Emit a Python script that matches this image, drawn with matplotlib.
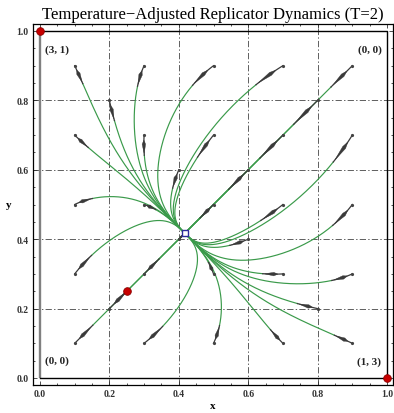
import numpy as np
import matplotlib
matplotlib.use("Agg")
import matplotlib.pyplot as plt
from matplotlib.patches import Polygon

# Game: rows/cols are strategy 1 (prob x / y) and strategy 2
row_payoff = np.array([[0.0, 1.0],
                       [3.0, 0.0]])
col_payoff = np.array([[0.0, 3.0],
                       [1.0, 0.0]])
temperature = 2.0

# Initial conditions of the trajectories
grid_vals = [0.1, 0.3, 0.5, 0.7, 0.9]
diag_vals = [0.2, 0.4, 0.6, 0.8]
anti_diag = [(0.2, 0.8), (0.4, 0.6), (0.6, 0.4), (0.8, 0.2)]

# Equilibria
nash_points = [(0.0, 1.0), (1.0, 0.0), (0.25, 0.25)]
rest_point = (0.417, 0.417)

ticks = [0.0, 0.2, 0.4, 0.6, 0.8, 1.0]
tick_labels = ["0.0", "0.2", "0.4", "0.6", "0.8", "1.0"]

starts = [(x, y) for y in grid_vals for x in grid_vals]
starts += [(v, v) for v in diag_vals]
starts += anti_diag


def velocity(p):
    x, y = p
    f = row_payoff @ np.array([y, 1 - y])
    g = col_payoff.T @ np.array([x, 1 - x])
    dx = x * (1 - x) * ((f[0] - f[1]) + temperature * np.log((1 - x) / x))
    dy = y * (1 - y) * ((g[0] - g[1]) + temperature * np.log((1 - y) / y))
    return np.array([dx, dy])


def integrate(p0, dt=0.004, t_end=30.0):
    pts = [np.array(p0, float)]
    p = pts[0].copy()
    for _ in range(int(t_end / dt)):
        k1 = velocity(p)
        k2 = velocity(p + 0.5 * dt * k1)
        k3 = velocity(p + 0.5 * dt * k2)
        k4 = velocity(p + dt * k3)
        p = p + dt / 6 * (k1 + 2 * k2 + 2 * k3 + k4)
        pts.append(p.copy())
        if np.hypot(*(p - rest_point)) < 2e-4:
            break
    return np.array(pts)


def point_at(path, cum, s):
    i = np.searchsorted(cum, s)
    i = min(max(i, 1), len(path) - 1)
    a = (s - cum[i - 1]) / max(cum[i] - cum[i - 1], 1e-12)
    return path[i - 1] + a * (path[i] - path[i - 1]), i


plt.rcParams["lines.scale_dashes"] = False
serif = ["Liberation Serif", "DejaVu Serif"]

fig = plt.figure(figsize=(3.94, 4.14), dpi=100)
ax = fig.add_axes([33 / 394, 28 / 414, 360 / 394, 361 / 414])
ax.set_xlim(-7 / 347, 353 / 347)
ax.set_ylim(-7 / 347, 354 / 347)

# dash-dot grid
for v in [0.2, 0.4, 0.6, 0.8]:
    ax.axvline(v, color="#5e5e5e", lw=0.7, dashes=(4.5, 1.6, 1.0, 1.6), zorder=1)
    ax.axhline(v, color="#5e5e5e", lw=0.7, dashes=(4.5, 1.6, 1.0, 1.6), zorder=1)

# boundary of the unit square
ax.plot([0, 0], [0, 1], color="#808080", lw=1.7, zorder=2, solid_capstyle="butt")
ax.plot([0, 1, 1], [1, 1, 0], color="black", lw=1.0, zorder=2)
ax.plot([0, 1], [0, 0], color="black", lw=1.0, zorder=2)

green = "#3a9a4a"
dark = "#3a3a3a"
for p0 in starts:
    path = integrate(p0)
    seg = np.hypot(*np.diff(path, axis=0).T)
    cum = np.concatenate([[0], np.cumsum(seg)])
    speed0 = np.hypot(*velocity(np.array(p0)))
    L = min(0.092 * np.sqrt(speed0), cum[-1] * 0.8)
    pL, iL = point_at(path, cum, L)
    green_path = np.vstack([pL, path[iL:]])
    ax.plot(green_path[:, 0], green_path[:, 1], color=green, lw=0.85, zorder=3)
    dark_path = np.vstack([path[:iL], pL])
    ax.plot(dark_path[:, 0], dark_path[:, 1], color=dark, lw=0.9, zorder=4)
    # spindle-shaped arrow head along the dark segment
    pb, _ = point_at(path, cum, 0.25 * L)
    pm, _ = point_at(path, cum, 0.45 * L)
    pt, _ = point_at(path, cum, 0.92 * L)
    d = pt - pb
    n = np.array([-d[1], d[0]]) / max(np.hypot(*d), 1e-12)
    w = min(0.005, 0.16 * L)
    ax.add_patch(Polygon([pb, pm + n * w, pt, pm - n * w], closed=True,
                         facecolor=dark, edgecolor=dark, lw=0.3, zorder=5))
    ax.plot(*p0, "o", color="#444444", ms=2.3, mew=0, zorder=6)

for (nx, ny) in nash_points:
    ax.plot(nx, ny, "o", ms=5.5, mfc="#c80000", mec="#8a0000", mew=0.6,
            zorder=8, clip_on=False)
ax.plot(*rest_point, "s", ms=4.6, mfc="white", mec="#2b2b9a", mew=1.0, zorder=8)

# payoff pairs at the corners
lab = dict(fontsize=8, fontweight="bold", family=serif, color="#222222", zorder=9)
ax.text(0.014, 0.948, f"({row_payoff[1,0]:g}, {col_payoff[1,0]:g})", ha="left", va="center", **lab)
ax.text(0.986, 0.948, f"({row_payoff[0,0]:g}, {col_payoff[0,0]:g})", ha="right", va="center", **lab)
ax.text(0.014, 0.05, f"({row_payoff[1,1]:g}, {col_payoff[1,1]:g})", ha="left", va="center", **lab)
ax.text(0.983, 0.047, f"({row_payoff[0,1]:g}, {col_payoff[0,1]:g})", ha="right", va="center", **lab)

ax.set_xticks(ticks)
ax.set_yticks(ticks)
ax.set_xticklabels(tick_labels)
ax.set_yticklabels(tick_labels)
ax.set_xticks(np.arange(0, 1.001, 0.05), minor=True)
ax.set_yticks(np.arange(0, 1.001, 0.05), minor=True)
ax.tick_params(which="both", direction="in", top=True, right=True, width=0.6,
               color="#333333")
ax.tick_params(which="major", length=3.0, pad=3)
ax.tick_params(which="minor", length=1.6)
for t in ax.get_xticklabels() + ax.get_yticklabels():
    t.set_family(serif)
    t.set_fontweight("bold")
    t.set_fontsize(7)
    t.set_color("#333333")
for s in ax.spines.values():
    s.set_linewidth(0.9)

ax.set_xlabel("x", family=serif, fontweight="bold", fontsize=8, labelpad=2)
ax.set_ylabel("y", family=serif, fontweight="bold", fontsize=8, rotation=0,
              labelpad=6, va="center")
ax.set_title("Temperature\u2212Adjusted Replicator Dynamics (T=2)",
             family=serif, fontsize=12, pad=4)

fig.savefig("out.png", dpi=100)
